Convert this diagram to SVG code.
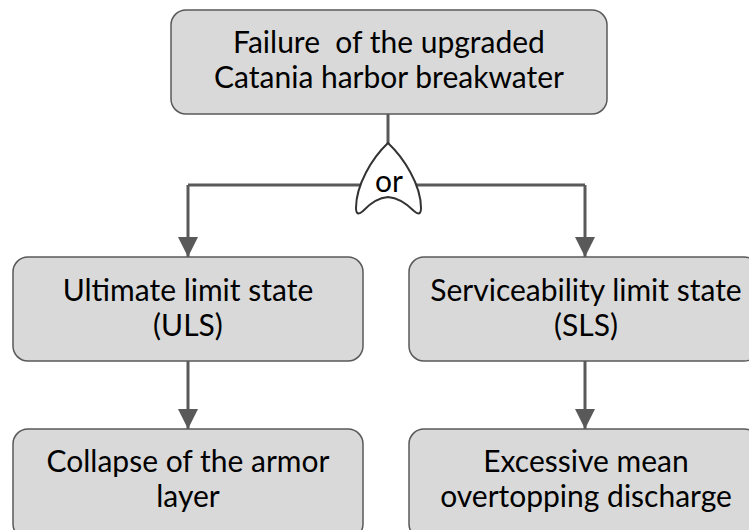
<svg xmlns="http://www.w3.org/2000/svg" width="749" height="530" viewBox="0 0 749 530">
<defs>
<marker id="ah" markerUnits="userSpaceOnUse" markerWidth="20" markerHeight="20" viewBox="0 0 20 20" refX="20" refY="10" orient="auto">
<path d="M0,0 L20,10 L0,20 Z" fill="#595959"/>
</marker>
<style>
.box{fill:#d9d9d9;stroke:#595959;stroke-width:1.5}
.t{font-family:Lato,"Liberation Sans",sans-serif;font-size:30px;fill:#000;text-anchor:middle;white-space:pre}
.c{fill:none;stroke:#595959;stroke-width:3}
</style>
</defs>
<rect width="749" height="530" fill="#fff"/>
<g id="connectors">
<path class="c" d="M388,114 V145"/>
<path class="c" d="M188,185 H585"/>
<path class="c" d="M188,185 V257" marker-end="url(#ah)"/>
<path class="c" d="M585,185 V257" marker-end="url(#ah)"/>
<path class="c" d="M188,361 V429" marker-end="url(#ah)"/>
<path class="c" d="M585,361 V429" marker-end="url(#ah)"/>
</g>
<g id="top">
<rect class="box" x="171" y="10" width="436" height="104" rx="15"/>
<text class="t" x="389" y="53" xml:space="preserve">Failure  of the upgraded</text>
<text class="t" x="389" y="88">Catania harbor breakwater</text>
</g>
<g id="or-gate">
<path d="M388,143 C372,158 356,185 356,208 Q356,217 363,211 Q375,198 388,197 Q401,198 414,211 Q421,217 421,208 C421,185 404,158 388,143 Z" fill="#fff" stroke="#333" stroke-width="2"/>
<text class="t" x="389" y="192">or</text>
</g>
<g id="uls">
<rect class="box" x="13" y="257" width="350" height="104" rx="15"/>
<text class="t" x="188" y="301">Ultimate limit state</text>
<text class="t" x="188" y="336">(ULS)</text>
</g>
<g id="sls">
<rect class="box" x="409" y="257" width="350" height="104" rx="15"/>
<text class="t" x="586" y="301">Serviceability limit state</text>
<text class="t" x="586" y="336">(SLS)</text>
</g>
<g id="collapse">
<rect class="box" x="13" y="429" width="350" height="110" rx="15"/>
<text class="t" x="188" y="472">Collapse of the armor</text>
<text class="t" x="188" y="507">layer</text>
</g>
<g id="overtopping">
<rect class="box" x="409" y="429" width="350" height="110" rx="15"/>
<text class="t" x="586" y="472">Excessive mean</text>
<text class="t" x="586" y="507">overtopping discharge</text>
</g>
</svg>
